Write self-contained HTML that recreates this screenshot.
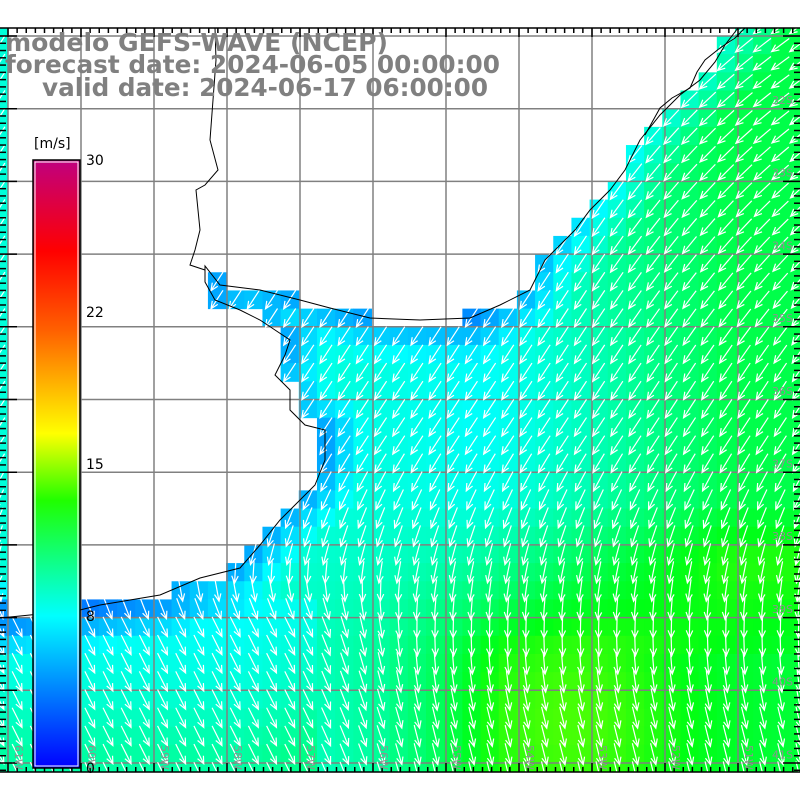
<!DOCTYPE html>
<html><head><meta charset="utf-8"><style>
body{margin:0;background:#fff;width:800px;height:800px;overflow:hidden}
svg{display:block}
.t{font-family:"DejaVu Sans","Liberation Sans",sans-serif;font-weight:bold;font-size:25px;fill:#808080}
.l{font-family:"DejaVu Sans","Liberation Sans",sans-serif;font-size:14px;fill:#000}
</style></head><body>
<svg id="s" width="800" height="800" xmlns="http://www.w3.org/2000/svg">
<defs><linearGradient id="cb" x1="0" y1="0" x2="0" y2="1">
<stop offset="0" stop-color="#c0007f"/><stop offset="0.15" stop-color="#ff0000"/>
<stop offset="0.28" stop-color="#ff6000"/><stop offset="0.45" stop-color="#ffff00"/>
<stop offset="0.56" stop-color="#20ff00"/><stop offset="0.75" stop-color="#00ffff"/>
<stop offset="1" stop-color="#0000ff"/></linearGradient>
<clipPath id="mc"><rect x="0" y="28" width="800" height="744"/></clipPath></defs>
<g id="field" clip-path="url(#mc)"></g>
<g id="grid" stroke="#808080" stroke-width="1.5" fill="none"></g>
<g id="arr" stroke="#fff" stroke-width="1.2" fill="none" clip-path="url(#mc)"></g>
<g id="coast" stroke="#000" stroke-width="1" fill="none"></g>
<g id="ticks" stroke="#000" stroke-width="1.5"></g>
<g id="lab" font-family="DejaVu Sans,sans-serif" font-size="11" fill="#909090"></g>
<rect x="33" y="160" width="47" height="608" fill="url(#cb)" stroke="#000" stroke-width="1.5"/>
<rect x="35" y="162" width="43" height="604" fill="none" stroke="#fff" stroke-width="1"/>
<text class="l" x="34" y="148">[m/s]</text>
<text class="l" x="86" y="165">30</text>
<text class="l" x="86" y="317">22</text>
<text class="l" x="86" y="469">15</text>
<text class="l" x="86" y="621">8</text>
<text class="l" x="86" y="773">0</text>
<text class="t" x="5" y="51" textLength="383" lengthAdjust="spacingAndGlyphs">modelo GEFS-WAVE (NCEP)</text>
<text class="t" x="5" y="73" textLength="495" lengthAdjust="spacingAndGlyphs">forecast date: 2024-06-05 00:00:00</text>
<text class="t" x="42" y="96" textLength="446" lengthAdjust="spacingAndGlyphs">valid date: 2024-06-17 06:00:00</text>
</svg>
<script>
const NS="http://www.w3.org/2000/svg";
function el(p,t,a){const e=document.createElementNS(NS,t);for(const k in a)e.setAttribute(k,a[k]);p.appendChild(e);return e;}
const coast=[[0,618],[30,615],[80,610],[100,605],[130,600],[160,595],[200,578],[240,568],[260,545],[280,520],[300,500],[315,485],[325,460],[325,430],[305,425],[290,410],[290,390],[275,375],[285,355],[290,340],[275,330],[260,320],[240,310],[215,300],[205,282],[205,266],[220,285],[260,290],[300,300],[330,308],[370,318],[420,320],[470,318],[500,305],[530,290],[545,260],[560,245],[575,230],[590,210],[610,190],[625,170],[640,140],[660,115],[680,95],[700,80],[715,62],[725,45],[738,28]];
const land=coast.concat([[738,0],[0,0]]);
function inside(x,y,poly){let c=false;for(let i=0,j=poly.length-1;i<poly.length;j=i++){const [xi,yi]=poly[i],[xj,yj]=poly[j];if((yi>y)!=(yj>y)&&x<(xj-xi)*(y-yi)/(yj-yi)+xi)c=!c;}return c;}
function dist(x,y){let m=1e9;for(let i=0;i<coast.length-1;i++){const [ax,ay]=coast[i],[bx,by]=coast[i+1];const dx=bx-ax,dy=by-ay;let t=((x-ax)*dx+(y-ay)*dy)/(dx*dx+dy*dy);t=Math.max(0,Math.min(1,t));const d=Math.hypot(x-ax-t*dx,y-ay-t*dy);if(d<m)m=d;}return m;}
function col(s){const st=[[0,[0,0,255]],[5,[0,120,255]],[8,[0,255,255]],[10,[0,255,180]],[12,[0,255,100]],[13.5,[0,255,20]],[15,[100,255,0]]];
 if(s<=0)return st[0][1];for(let i=0;i<st.length-1;i++){if(s<=st[i+1][0]){const f=(s-st[i][0])/(st[i+1][0]-st[i][0]);return st[i][1].map((v,k)=>Math.round(v+f*(st[i+1][1][k]-v)));}}return st[st.length-1][1];}
const cl=(v)=>Math.max(0,Math.min(1,v));
function speed(x,y){let s=9.0;
 s+=3.5*cl((x-480)/250)*cl((560-y)/100+1);
 s-=1.0*Math.exp(-((x-520)**2+(y-400)**2)/(2*90*90));
 s+=(1.6+2.2*cl((x-380)/120))*cl((y-500)/150)*cl((x-300)/150+0.4);
 s+=1.8*Math.exp(-((x-570)**2+(y-720)**2)/(2*90*90));
 const d=dist(x,y);if(d<45)s-=(45-d)/45*3.0;
 if(x<320&&y>600)s-=1.0*cl((690-y)/70);
 if(x<320&&y>690)s+=1.4*cl((y-690)/60);
 return s;}
function dir(x,y){let dx;
 if(y<=450)dx=-0.65;else if(y<=600)dx=-0.65+0.55*(y-450)/150;else dx=-0.1+0.35*cl((y-600)/120);
 dx-=0.7*cl((x-580)/200)*cl((380-y)/300);
 const w=cl((420-x)/120)*cl((y-560)/60);dx=dx*(1-w)+0.5*w;
 return dx;}
const F=document.getElementById('field'),A=document.getElementById('arr');
const cs=18.175;
for(let i=0;i<45;i++)for(let j=0;j<45;j++){const x0=8-cs*1+i*cs,y0=36-cs*2+j*cs;const cx=x0+cs/2,cy=y0+cs/2;
 if(cy<20||cy>790)continue;
 if(inside(cx,cy,land))continue;
 const c=col(speed(cx,cy));el(F,'rect',{x:x0,y:y0,width:cs+0.5,height:cs+0.5,fill:`rgb(${c})`});
 let dx=dir(cx,cy),dy=1;const n=Math.hypot(dx,dy);dx/=n;dy/=n;
 const L=22,x1=cx-dx*L/2,y1=cy-dy*L/2,x2=cx+dx*L/2,y2=cy+dy*L/2;
 const h=8,a=0.42;const bx=-dx,by=-dy;
 const p1=[x2+h*(bx*Math.cos(a)-by*Math.sin(a)),y2+h*(bx*Math.sin(a)+by*Math.cos(a))];
 const p2=[x2+h*(bx*Math.cos(-a)-by*Math.sin(-a)),y2+h*(bx*Math.sin(-a)+by*Math.cos(-a))];
 el(A,'path',{d:`M${x1},${y1}L${x2},${y2}M${p1}L${x2},${y2}L${p2}`});}
const G=document.getElementById('grid');
for(let k=0;k<11;k++){const x=8+73*k;el(G,'line',{x1:x,y1:28,x2:x,y2:772});const y=36+72.7*k;el(G,'line',{x1:0,y1:y,x2:800,y2:y});}
const C=document.getElementById('coast');
el(C,'polyline',{points:coast.join(' ')});
el(C,'polyline',{points:"215,28 216,60 213,100 210,140 218,170 205,185 196,190 200,230 195,250 190,265 205,270"});
el(C,'polyline',{points:"645,135 660,108 672,98 690,88 697,72 705,60 720,48 735,38 745,28"});
const T=document.getElementById('ticks');
el(T,'line',{x1:0,y1:28,x2:800,y2:28});el(T,'line',{x1:0,y1:772,x2:800,y2:772});
for(let x=8;x<800;x+=9.125){const big=Math.abs(((x-8)/73)-Math.round((x-8)/73))<0.01;const l=big?9:5;
 el(T,'line',{x1:x,y1:28,x2:x,y2:28+l});el(T,'line',{x1:x,y1:772,x2:x,y2:772-l});}
for(let y=36;y<772;y+=7.27){const big=Math.abs(((y-36)/72.7)-Math.round((y-36)/72.7))<0.01;const l=big?17:6;
 el(T,'line',{x1:0,y1:y,x2:l,y2:y});el(T,'line',{x1:800,y1:y,x2:800-l,y2:y});}
const Lb=document.getElementById('lab');
["32S","33S","34S","35S","36S","37S","38S","39S","40S","41S"].forEach((t,i)=>{el(Lb,'text',{x:772,y:104+72.7*i}).textContent=t;});
["61W","60W","59W","58W","57W","56W","55W","54W","53W","52W","51W"].forEach((t,i)=>{const x=15+73*i;const e=el(Lb,'text',{x:0,y:0,transform:`translate(${x},745) rotate(90)`});e.textContent=t;});
</script>
</body></html>
